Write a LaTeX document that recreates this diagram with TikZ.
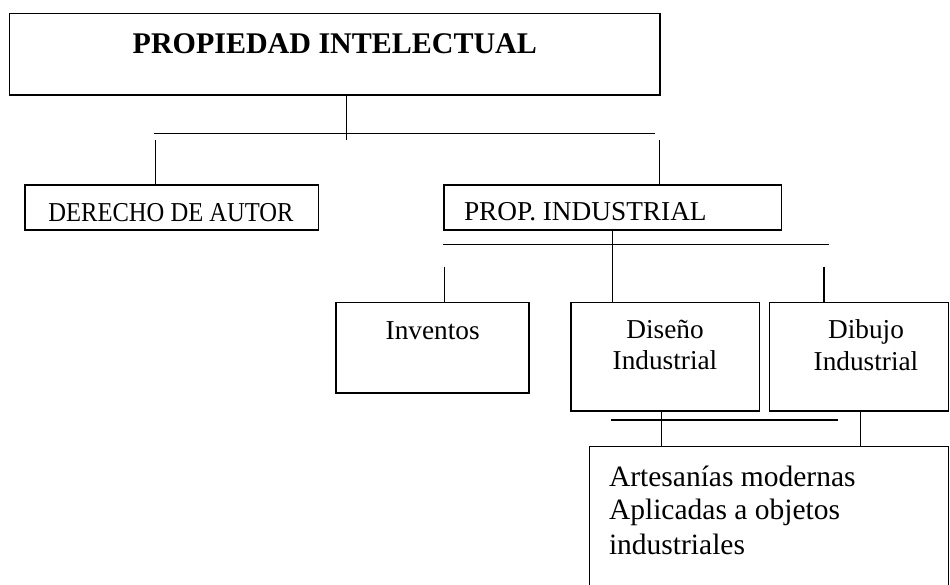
\documentclass[tikz,border=0pt]{standalone}
\usepackage{fontspec}
\usepackage{graphicx}
\setmainfont{Liberation Serif}
\begin{document}
\begin{tikzpicture}[x=1pt,y=-1pt,
  box/.style={draw=black,line width=1.3pt,inner sep=0pt,outer sep=0pt,anchor=north west,fill=none},
  conn/.style={draw=black,line width=1.3pt},
  lbl/.style={inner sep=0pt,outer sep=0pt,anchor=base,font=\fontsize{27.3}{31.4}\selectfont},
  lblw/.style={inner sep=0pt,outer sep=0pt,anchor=base west,font=\fontsize{27.3}{31.4}\selectfont}]
\useasboundingbox (0,0) rectangle (950,584);
\clip (0,0) rectangle (950,584);
\fill[white] (0,0) rectangle (950,584);
% boxes
\node[box,minimum width=650.3pt,minimum height=81.7pt] (top) at (9.7,13.3) {};
\node[box,minimum width=293.3pt,minimum height=45pt] (der) at (25,185) {};
\node[box,minimum width=337.7pt,minimum height=45pt] (prop) at (444,185) {};
\node[box,minimum width=193pt,minimum height=90.7pt] (inv) at (336,302.3) {};
\node[box,minimum width=188.3pt,minimum height=108.7pt] (dis) at (571,302.3) {};
\node[box,minimum width=179pt,minimum height=108.7pt] (dib) at (769.5,302.3) {};
\node[box,minimum width=359.2pt,minimum height=160pt] (art) at (589.3,446.7) {};
% texts
\node[lbl,font=\fontsize{30}{34.5}\selectfont\bfseries] (ttop) at (334.8,53.3) {PROPIEDAD INTELECTUAL};
\node[lbl] (tder) at (171,221) {\scalebox{0.9}[1]{DERECHO DE AUTOR}};
\node[lblw] (tprop) at (464,220) {PROP. INDUSTRIAL};
\node[lbl] (tinv) at (432.7,339) {Inventos};
\node[lbl] (tdis1) at (665,338) {Diseño};
\node[lbl] (tdis2) at (665,369.5) {Industrial};
\node[lbl] (tdib1) at (866,338) {Dibujo};
\node[lbl] (tdib2) at (866,370) {Industrial};
\node[lblw,font=\fontsize{29.5}{34}\selectfont] (tart1) at (609,486.7) {Artesanías modernas};
\node[lblw,font=\fontsize{29.5}{34}\selectfont] (tart2) at (609,519.3) {Aplicadas a objetos};
\node[lblw,font=\fontsize{29.5}{34}\selectfont] (tart3) at (609,554) {industriales};
% bus coordinates
\coordinate (v0e) at (346.7,140);
\coordinate (h1a) at (154,133.3);
\coordinate (h1b) at (655,133.3);
\coordinate (v1s) at (155.7,140);
\coordinate (v2s) at (659.3,140);
\coordinate (h2a) at (443,244.7);
\coordinate (h2b) at (829,244.7);
\coordinate (v3x) at (612.7,244.7);
\coordinate (v4s) at (444.7,266.5);
\coordinate (v5s) at (824,266.5);
\coordinate (h3a) at (611,420);
\coordinate (h3b) at (838,420);
\coordinate (v6x) at (661.5,420);
\coordinate (v7x) at (860.5,420);
% connectors
\draw[conn] (v0e |- top.south) -- (v0e);
\draw[conn] (h1a) -- (h1b);
\draw[conn] (v1s) -- (v1s |- der.north);
\draw[conn] (v2s) -- (v2s |- prop.north);
\draw[conn] (h2a) -- (h2b);
\draw[conn] (v3x |- prop.south) -- (v3x |- dis.north);
\draw[conn] (v4s) -- (v4s |- inv.north);
\draw[conn] (v5s) -- (v5s |- dib.north);
\draw[conn] (h3a) -- (h3b);
\draw[conn] (v6x |- dis.south) -- (v6x |- art.north);
\draw[conn] (v7x |- dib.south) -- (v7x |- art.north);
\end{tikzpicture}
\end{document}
